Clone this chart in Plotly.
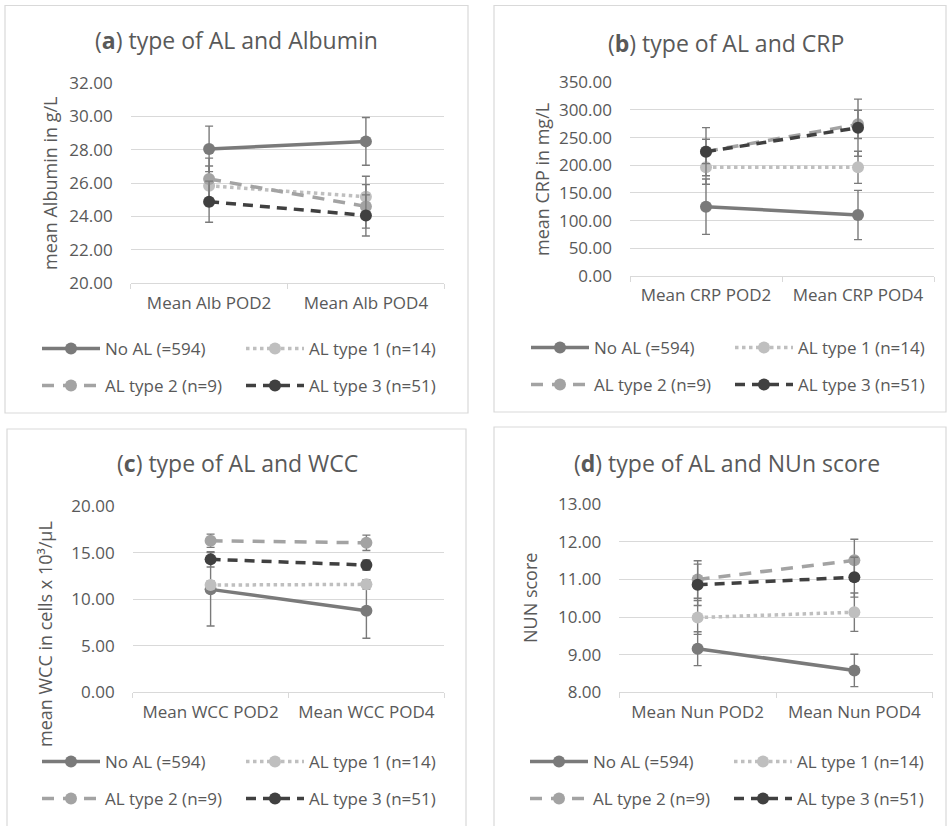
import plotly.graph_objects as go

# ---- data -------------------------------------------------------------
groups = ["No AL (=594)", "AL type 1 (n=14)", "AL type 2 (n=9)", "AL type 3 (n=51)"]

alb_cats = ["Mean Alb POD2", "Mean Alb POD4"]
alb_no = [28.04, 28.49]
alb_t1 = [25.83, 25.18]
alb_t2 = [26.24, 24.60]
alb_t3 = [24.88, 24.06]
alb_no_err = [1.36, 1.43]
alb_t1_err = [1.19, 1.22]
alb_t2_err = [1.25, 1.30]
alb_t3_err = [1.23, 1.23]

crp_cats = ["Mean CRP POD2", "Mean CRP POD4"]
crp_no = [125.3, 110.2]
crp_t1 = [196.4, 196.4]
crp_t2 = [225.0, 274.0]
crp_t3 = [224.6, 268.0]
crp_no_err = [50.0, 44.5]
crp_t1_err = [30.7, 29.0]
crp_t2_err = [22.0, 25.6]
crp_t3_err = [43.5, 51.6]

wcc_cats = ["Mean WCC POD2", "Mean WCC POD4"]
wcc_no = [11.05, 8.76]
wcc_t1 = [11.51, 11.59]
wcc_t2 = [16.27, 16.05]
wcc_t3 = [14.27, 13.66]
wcc_no_err = [3.94, 2.96]
wcc_t1_err = [0.45, 0.50]
wcc_t2_err = [0.71, 0.82]
wcc_t3_err = [0.82, 0.55]

nun_cats = ["Mean Nun POD2", "Mean Nun POD4"]
nun_no = [9.16, 8.58]
nun_t1 = [9.99, 10.13]
nun_t2 = [11.00, 11.51]
nun_t3 = [10.86, 11.06]
nun_no_err = [0.45, 0.43]
nun_t1_err = [0.45, 0.51]
nun_t2_err = [0.50, 0.56]
nun_t3_err = [0.55, 0.53]

alb_ticks = [20, 22, 24, 26, 28, 30, 32]
crp_ticks = [0, 50, 100, 150, 200, 250, 300, 350]
wcc_ticks = [0, 5, 10, 15, 20]
nun_ticks = [8, 9, 10, 11, 12, 13]

# ---- styling ------------------------------------------------------------
W, H = 950, 826
FONT = "Open Sans"
TXT = "#595959"
GRID = "#d9d9d9"
ERR = "#7a7a7a"
TICK_SIZE = 17
LEG_SIZE = 17
YTITLE_SIZE = 18

colors = ["#7a7a7a", "#bfbfbf", "#a3a3a3", "#404040"]
dashes = ["solid", "dot", "12px,9px", "10px,7px"]

SYMBOL_W = 58      # legend sample width
COL_STEP = 201     # distance between the two legend columns


def px_x(v):
    return v / W


def px_y(v):
    return 1 - v / H


panels = [
    dict(cats=alb_cats, series=[alb_no, alb_t1, alb_t2, alb_t3],
         errs=[alb_no_err, alb_t1_err, alb_t2_err, alb_t3_err],
         ticks=alb_ticks, rng=[20, 32],
         title="(<b>a</b>) type of AL and Albumin", ytitle="mean Albumin in g/L",
         dom_x=(130.7, 444.3), dom_y=(82.7, 283.3),
         title_xy=(236, 40), ytitle_xy=(50, 184),
         box=(5, 5.5, 468, 413), leg_x=42, leg_rows=(349, 386)),
    dict(cats=crp_cats, series=[crp_no, crp_t1, crp_t2, crp_t3],
         errs=[crp_no_err, crp_t1_err, crp_t2_err, crp_t3_err],
         ticks=crp_ticks, rng=[0, 350],
         title="(<b>b</b>) type of AL and CRP", ytitle="mean CRP in mg/L",
         dom_x=(630, 934), dom_y=(82.3, 276),
         title_xy=(726, 43), ytitle_xy=(542, 180),
         box=(494, 5.5, 946, 412), leg_x=531, leg_rows=(348, 385)),
    dict(cats=wcc_cats, series=[wcc_no, wcc_t1, wcc_t2, wcc_t3],
         errs=[wcc_no_err, wcc_t1_err, wcc_t2_err, wcc_t3_err],
         ticks=wcc_ticks, rng=[0, 20],
         title="(<b>c</b>) type of AL and WCC", ytitle="mean WCC in cells x 10³/μL",
         dom_x=(132.7, 444.3), dom_y=(506, 692.3),
         title_xy=(237, 463), ytitle_xy=(45, 634),
         box=(7, 429, 466, 830), leg_x=42, leg_rows=(762, 799)),
    dict(cats=nun_cats, series=[nun_no, nun_t1, nun_t2, nun_t3],
         errs=[nun_no_err, nun_t1_err, nun_t2_err, nun_t3_err],
         ticks=nun_ticks, rng=[8, 13],
         title="(<b>d</b>) type of AL and NUn score", ytitle="NUN score",
         dom_x=(619.3, 932.7), dom_y=(504.3, 692.3),
         title_xy=(727, 463), ytitle_xy=(530, 598),
         box=(494, 427, 946, 830), leg_x=530, leg_rows=(762, 799)),
]

fig = go.Figure()
layout = dict(
    width=W, height=H, margin=dict(l=0, r=0, t=0, b=0, autoexpand=False),
    paper_bgcolor="white", plot_bgcolor="white",
    font=dict(family=FONT, size=TICK_SIZE, color=TXT),
    shapes=[], annotations=[],
)

legend_idx = 0
for p_i, p in enumerate(panels):
    n = p_i + 1
    xa = "x" if n == 1 else f"x{n}"
    ya = "y" if n == 1 else f"y{n}"
    xkey = "xaxis" if n == 1 else f"xaxis{n}"
    ykey = "yaxis" if n == 1 else f"yaxis{n}"

    # one horizontal legend per row, two entries each
    row_legends = []
    for r, ry in enumerate(p["leg_rows"]):
        legend_idx += 1
        lname = "legend" if legend_idx == 1 else f"legend{legend_idx}"
        row_legends.append(lname)
        layout[lname] = dict(
            orientation="h", x=px_x(p["leg_x"] - 5), xanchor="left",
            y=px_y(ry), yanchor="middle", bgcolor="rgba(0,0,0,0)",
            font=dict(family=FONT, size=LEG_SIZE, color=TXT),
            entrywidth=COL_STEP - SYMBOL_W - 12, entrywidthmode="pixels",
            itemwidth=SYMBOL_W, tracegroupgap=0, itemclick=False,
        )

    for s_i, (vals, errs) in enumerate(zip(p["series"], p["errs"])):
        fig.add_trace(go.Scatter(
            x=p["cats"], y=vals, name=groups[s_i], mode="lines+markers",
            xaxis=xa, yaxis=ya, legend=row_legends[s_i // 2],
            line=dict(color=colors[s_i], width=3.5, dash=dashes[s_i]),
            marker=dict(color=colors[s_i], size=12),
            error_y=dict(type="data", array=errs, visible=True,
                         color=ERR, thickness=1.4, width=4),
        ))

    x0, x1 = p["dom_x"]
    y0, y1 = p["dom_y"]
    layout[xkey] = dict(
        domain=[px_x(x0), px_x(x1)], anchor=ya, type="category",
        range=[-0.5, len(p["cats"]) - 0.5],
        showgrid=False, showline=True, linecolor=GRID, linewidth=1,
        ticks="outside", tickson="boundaries", ticklen=5, tickcolor=GRID,
        tickfont=dict(family=FONT, size=TICK_SIZE, color=TXT), ticklabelstandoff=4,
        fixedrange=True, automargin=False,
    )
    layout[ykey] = dict(
        domain=[px_y(y1), px_y(y0)], anchor=xa, range=p["rng"],
        tickvals=p["ticks"], tickformat=".2f",
        showgrid=True, gridcolor=GRID, gridwidth=1, zeroline=False,
        showline=False, ticks="", ticklabelstandoff=17,
        tickfont=dict(family=FONT, size=TICK_SIZE, color=TXT), fixedrange=True,
        automargin=False,
    )

    bx0, by0, bx1, by1 = p["box"]
    layout["shapes"].append(dict(
        type="rect", xref="paper", yref="paper",
        x0=px_x(bx0), x1=px_x(bx1), y0=px_y(by1), y1=px_y(by0),
        line=dict(color=GRID, width=1.2), layer="below",
    ))
    tx, ty = p["title_xy"]
    layout["annotations"].append(dict(
        text=p["title"], xref="paper", yref="paper", x=px_x(tx), y=px_y(ty),
        xanchor="center", yanchor="middle", showarrow=False,
        font=dict(family=FONT, size=23, color=TXT),
    ))
    yx, yy = p["ytitle_xy"]
    layout["annotations"].append(dict(
        text=p["ytitle"], xref="paper", yref="paper", x=px_x(yx), y=px_y(yy),
        xanchor="center", yanchor="middle", showarrow=False, textangle=-90,
        font=dict(family=FONT, size=YTITLE_SIZE, color=TXT),
    ))

fig.update_layout(**layout)
fig.write_html("out.html")
